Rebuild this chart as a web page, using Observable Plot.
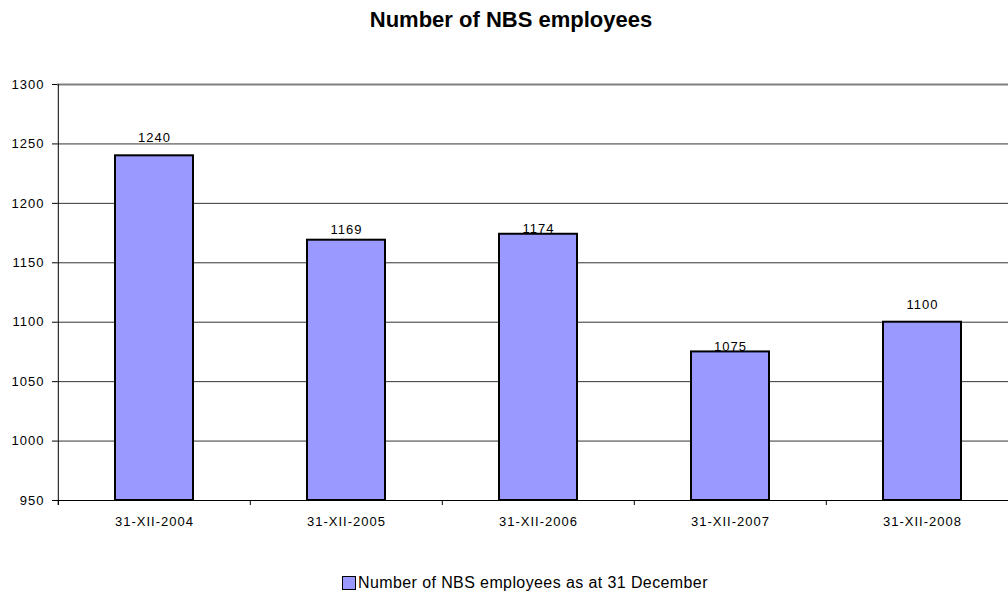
<!DOCTYPE html>
<html>
<head>
<meta charset="utf-8">
<script src="https://cdn.jsdelivr.net/npm/d3@7"></script>
<script src="https://cdn.jsdelivr.net/npm/@observablehq/plot@0.6"></script>
<style>
  html, body { margin: 0; padding: 0; background: #fff; overflow: hidden; }
  #wrap { position: relative; width: 1008px; height: 598px; overflow: hidden; font-family: "Liberation Sans", Arial, sans-serif; }
  #chart { position: absolute; left: 0; top: 0; width: 1019px; }
  #chart svg { max-width: none !important; }
  #chart svg text { letter-spacing: 1px; }
  #title { position: absolute; left: 0; top: 9px; width: 1022px; text-align: center; font-weight: bold; font-size: 22px; line-height: 1; color: #000; }
  #legend { position: absolute; left: 342px; top: 575px; display: flex; align-items: center; font-size: 16px; line-height: 1; letter-spacing: 0.4px; color: #000; }
  #legend .sw { width: 12px; height: 12px; background: #9999FF; border: 1px solid #000; margin-right: 2px; }
</style>
</head>
<body>
<div id="wrap">
  <div id="chart"></div>
  <div id="title">Number of NBS employees</div>
  <div id="legend"><span class="sw"></span><span>Number of NBS employees as at 31 December</span></div>
</div>
<script>
const dates = ["31-XII-2004", "31-XII-2005", "31-XII-2006", "31-XII-2007", "31-XII-2008"];
const employees = [1240, 1169, 1174, 1075, 1100];
const yTicks = [950, 1000, 1050, 1100, 1150, 1200, 1250, 1300];

const data = dates.map((d, i) => ({date: d, value: employees[i]}));

const W = 1019, H = 598, mL = 57, mR = 0, mT = 84, mB = 98;
const step = (W - mL - mR) / dates.length;
const plotH = H - mT - mB;
const labelDy = [-18, -10, -5, -5, -17];

const chart = Plot.plot({
  width: W, height: H,
  marginTop: mT, marginBottom: mB, marginLeft: mL, marginRight: mR,
  style: {fontFamily: "'Liberation Sans', Arial, sans-serif", fontSize: "13px", color: "#000", background: "#fff", overflow: "visible", maxWidth: "none"},
  x: {domain: dates, paddingInner: 0.594, paddingOuter: 0.297, label: null},
  y: {domain: [950, 1300], label: null},
  marks: [
    Plot.ruleY(yTicks.filter(t => t > 950 && t < 1300), {stroke: "#000", strokeWidth: 1, strokeOpacity: 0.8}),
    Plot.ruleY([1300], {stroke: "#808080", strokeWidth: 2}),
    Plot.barY(data, {x: "date", y1: 950, y2: "value", fill: "#9999FF", stroke: "#000", strokeWidth: 2}),
    ...data.map((d, i) => Plot.text([d], {x: "date", y: "value", text: d => String(d.value), dy: labelDy[i], fontSize: 13})),
    Plot.ruleY([950], {stroke: "#000", strokeWidth: 1}),
    Plot.ruleX(dates, {x: d => d, dx: -step / 2, insetTop: plotH, insetBottom: -5, stroke: "#000"}),
    Plot.ruleX([dates[0]], {x: d => d, dx: -step / 2, insetBottom: -5, stroke: "#000"}),
    Plot.axisY({ticks: yTicks, tickFormat: d => String(d), tickSize: 5, tickPadding: 8, label: null, fontSize: 13}),
    Plot.axisX({tickSize: 0, tickPadding: 16, label: null, fontSize: 13})
  ]
});
document.getElementById("chart").appendChild(chart);
</script>
</body>
</html>
